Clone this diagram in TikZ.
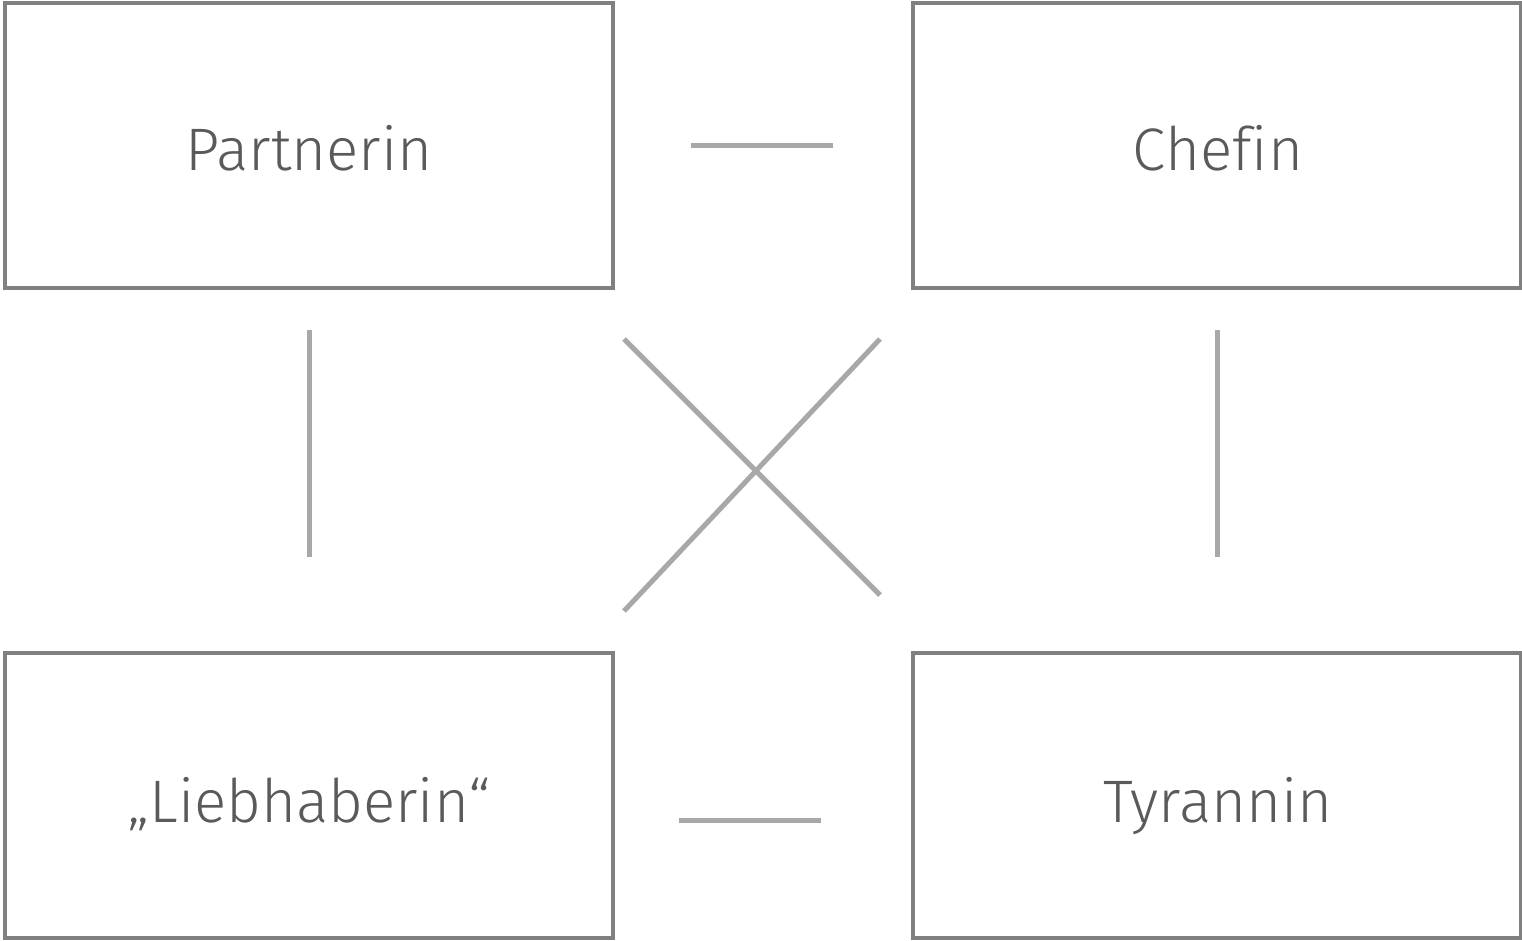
\documentclass[tikz,border=0pt]{standalone}
\usepackage{fontspec}
\setmainfont{Fira Sans Light}[Ligatures=NoCommon]
\definecolor{txt}{HTML}{5A5A5A}
\definecolor{boxc}{HTML}{808080}
\definecolor{linec}{HTML}{A8A8A8}
\begin{document}
\begin{tikzpicture}[x=1pt,y=-1pt,
  rolebox/.style={draw=boxc,line width=4pt,minimum width=608pt,minimum height=285pt,inner sep=0pt},
  lbl/.style={anchor=base,inner sep=0pt,text=txt,font=\fontsize{60}{72}\selectfont},
  link/.style={draw=linec,line width=5pt}]
\useasboundingbox (0,0) rectangle (1522,940);
\node[rolebox] (p) at (309,145.5) {};
\node[rolebox] (c) at (1217,145.5) {};
\node[rolebox] (l) at (309,795.5) {};
\node[rolebox] (t) at (1217,795.5) {};
\node[lbl] (pt) at (309,170) {Partnerin};
\node[lbl] (ct) at (1218,170) {Chefin};
\node[lbl] (lt) at (309,822) {„Liebhaberin“};
\node[lbl] (tt) at (1218,822) {Tyrannin};
\coordinate (h1a) at (691,145); \coordinate (h1b) at (833,145);
\coordinate (h2a) at (679,820); \coordinate (h2b) at (821,820);
\coordinate (v1a) at (309,330); \coordinate (v1b) at (309,557);
\coordinate (v2a) at (1217,330); \coordinate (v2b) at (1217,557);
\coordinate (d1a) at (624,339); \coordinate (d1b) at (880,595);
\coordinate (d2a) at (880,339); \coordinate (d2b) at (624,611);
\draw[link] (h1a) -- (h1b);
\draw[link] (h2a) -- (h2b);
\draw[link] (v1a) -- (v1b);
\draw[link] (v2a) -- (v2b);
\draw[link] (d1a) -- (d1b);
\draw[link] (d2a) -- (d2b);
\end{tikzpicture}
\end{document}
